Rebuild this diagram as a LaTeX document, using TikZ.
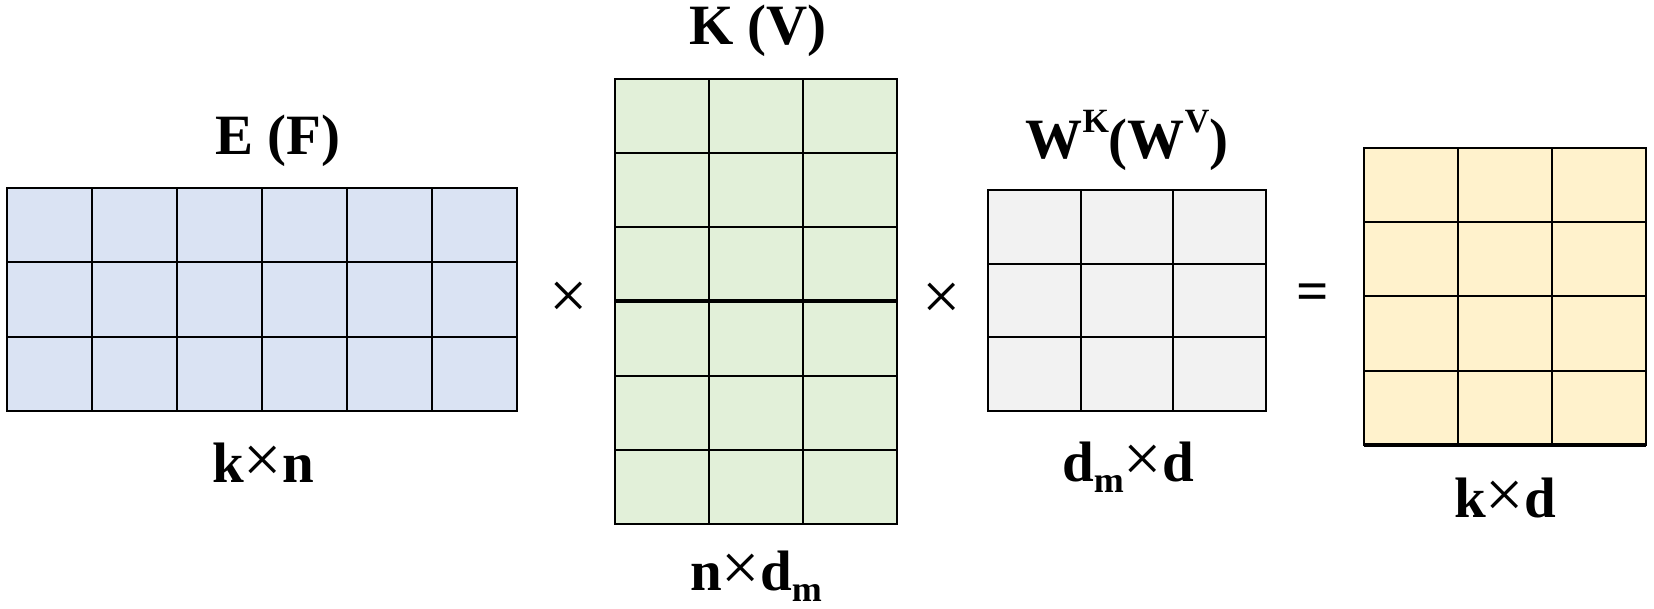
\documentclass[tikz,border=0pt]{standalone}
\usepackage{fontspec}
\setmainfont{Liberation Serif}
\usepackage{tikz}
\usetikzlibrary{positioning}
\definecolor{eblue}{HTML}{DAE3F3}
\definecolor{kgreen}{HTML}{E2F0D9}
\definecolor{wgray}{HTML}{F2F2F2}
\definecolor{ryellow}{HTML}{FFF2CC}
\newcommand{\bigfont}{\fontsize{57}{60}\selectfont}
\newcommand{\upidx}[1]{\raisebox{26pt}{\fontsize{34}{34}\selectfont #1}}
\newcommand{\lowidx}[1]{\raisebox{-11pt}{\fontsize{36}{36}\selectfont #1}}
\newcommand{\mulsign}{{\fontsize{68}{68}\selectfont\mdseries ×}}
\begin{document}
\begin{tikzpicture}[x=1pt, y=1pt, mat node/.style={draw,line width=2.6pt,inner sep=0pt,outer sep=0pt}, lbl node/.style={anchor=base,inner sep=0pt,font=\bigfont\bfseries}, op node/.style={inner sep=0pt,font=\fontsize{68}{68}\selectfont}]
\useasboundingbox (0,0) rectangle (1654,608);
\begin{scope}[every node/.style={mat node}]
\node[fill=eblue,minimum width=510pt,minimum height=223pt] (mE) at (262,308.5) {};
\node[fill=kgreen,minimum width=282pt,minimum height=445pt] (mK) at (756,306.5) {};
\node[fill=wgray,minimum width=278pt,minimum height=221pt] (mW) at (1127,307.5) {};
\node[fill=ryellow,minimum width=282pt,minimum height=297pt] (mR) at (1505,311.5) {};
\end{scope}
\begin{scope}[line width=2pt]
\draw[shift={(mE.south west)},xstep=85pt,ystep=74.333pt] (0,0) grid (510pt,223pt);
\draw[shift={(mK.south west)},xstep=94pt,ystep=74.166pt] (0,0) grid (282pt,445pt);
\draw[shift={(mW.south west)},xstep=92.666pt,ystep=73.666pt] (0,0) grid (278pt,221pt);
\draw[shift={(mR.south west)},xstep=94pt,ystep=74.25pt] (0,0) grid (282pt,297pt);
\end{scope}
\draw[line width=4pt] (mK.west) -- (mK.east);
\draw[line width=4.5pt] (mR.south west) -- (mR.south east);
% names and sizes
\node[lbl node] (tE) at (278,453) {E (F)};
\node[lbl node] (tK) at (758,563) {K (V)};
\node[lbl node] (tW) at (1127,449) {W\upidx{K}(W\upidx{V})};
\node[lbl node] (sE) at (263,125) {k\mulsign n};
\node[lbl node] (sK) at (756,18) {n\mulsign d\lowidx{m}};
\node[lbl node] (sW) at (1128,126) {d\lowidx{m}\mulsign d};
\node[lbl node] (sR) at (1505,91) {k\mulsign d};
% operators
\node[op node] (x1) at (569,308) {×};
\node[op node] (x2) at (942,307) {×};
\node[op node,font=\bigfont\bfseries] (eq) at (1313,311) {=};
\end{tikzpicture}
\end{document}
